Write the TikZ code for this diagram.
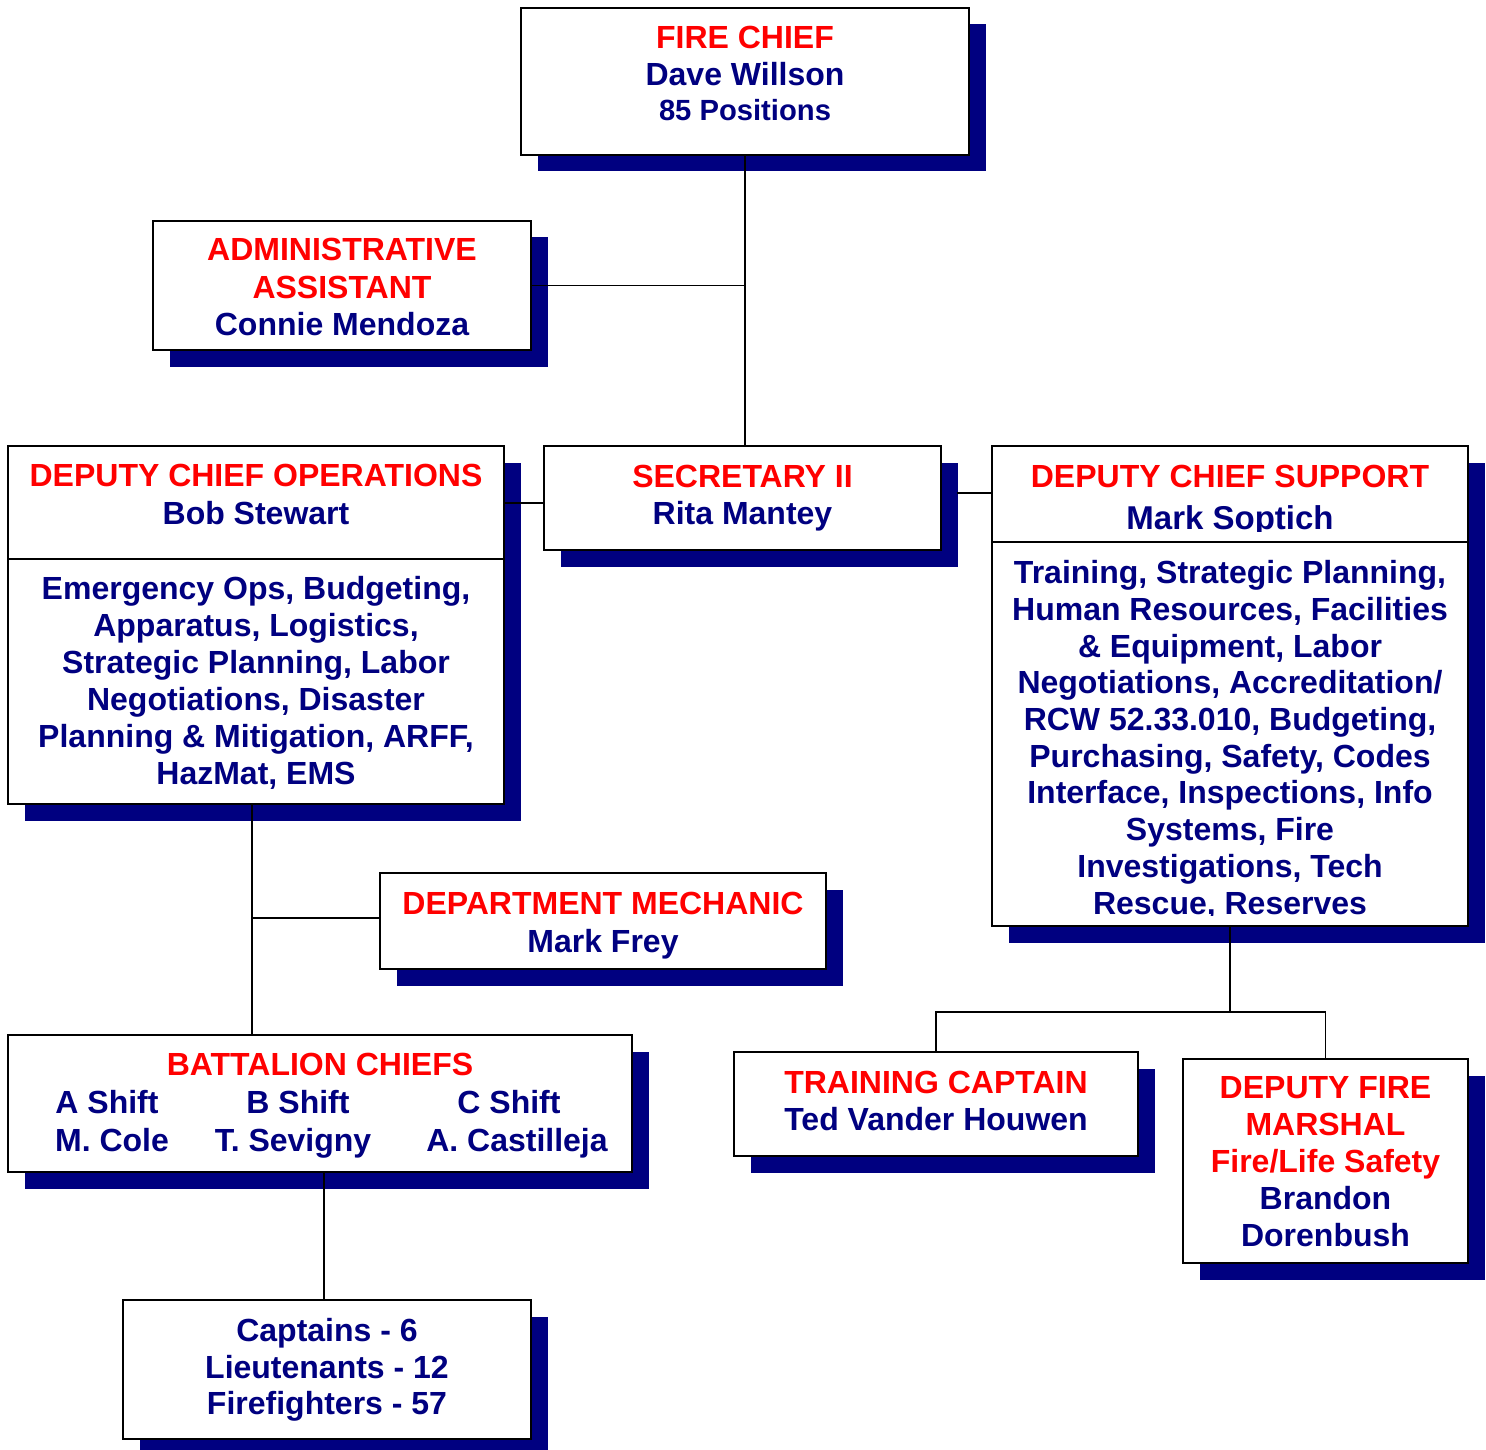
\documentclass[tikz,border=0pt]{standalone}
\usepackage{fontspec}
\setmainfont{Liberation Sans}
\usetikzlibrary{fit,shadows}
\definecolor{navy}{RGB}{0,0,128}
\definecolor{ored}{RGB}{255,0,0}
\begin{document}
\begin{tikzpicture}[x=0.5pt,y=-0.5pt,
  box/.style={draw=black, line width=1pt, fill=white, inner sep=0pt,
    drop shadow={shadow xshift=8.25pt, shadow yshift=-8.25pt, fill=navy, opacity=1}},
  t/.style={inner sep=0pt, text height=11.46pt, text depth=0pt,
    font=\fontsize{16}{18.5}\selectfont\bfseries, text=navy},
  r/.style={t, text=ored},
  conn/.style={line width=0.75pt, draw=black},
  divider/.style={line width=1pt, draw=black}]
\useasboundingbox (0,0) rectangle (1486,1449);

% ---------- boxes ----------
\node[box, fit={(521,8) (969,155)}] (fc) {};
\node[box, fit={(153,221) (531,350)}] (admin) {};
\node[box, fit={(8,446) (504,804)}] (ops) {};
\node[box, fit={(544,446) (941,550)}] (sec) {};
\node[box, fit={(992,446) (1468,926)}] (sup) {};
\node[box, fit={(380,873) (826,969)}] (mech) {};
\node[box, fit={(8,1035) (632,1172)}] (bat) {};
\node[box, fit={(734,1052) (1138,1156)}] (train) {};
\node[box, fit={(1183,1059) (1468,1263)}] (dfm) {};
\node[box, fit={(123,1300) (531,1439)}] (cap) {};

% dividers
\coordinate (d1) at (0,559);
\coordinate (d2) at (0,542);
\draw[divider] (ops.west |- d1) -- (ops.east |- d1);
\draw[divider] (sup.west |- d2) -- (sup.east |- d2);

% ---------- connectors ----------
\draw[conn] (fc.south) -- (fc.south |- sec.north);
\draw[conn] (admin.east) -- (admin.east -| fc.south);
\coordinate (j2) at (0,503);
\draw[conn] (sec.west |- j2) -- (ops.east |- j2);
\coordinate (j3) at (957,493);
\draw[conn] (j3) -- (sup.west |- j3);
\coordinate (j1) at (252,918);
\draw[conn] (ops.south -| j1) -- (bat.north -| j1);
\draw[conn] (j1) -- (j1 -| mech.west);
\coordinate (j5) at (324,0);
\draw[conn] (bat.south -| j5) -- (cap.north -| j5);
\coordinate (j4) at (1230,1012);
\draw[conn] (sup.south) -- (sup.south |- j4);
\draw[conn] (train.north) -- (train.north |- j4) -| (dfm.north);

% ---------- texts ----------
% Fire chief
\node[r] (fc1) at (745,37) {FIRE CHIEF};
\node[t] (fc2) at (745,74) {Dave Willson};
\node[t, font=\fontsize{14.6}{18.5}\selectfont\bfseries, text height=10.45pt] (fc3) at (745,110) {85 Positions};
% Admin
\node[r] (ad1) at (342,249.5) {ADMINISTRATIVE};
\node[r] (ad2) at (342,287) {ASSISTANT};
\node[t] (ad3) at (342,324) {Connie Mendoza};
% Ops
\node[r] (op0) at (256,475.5) {DEPUTY CHIEF OPERATIONS};
\node[t] (opn) at (256,513) {Bob Stewart};
\node[t] (op1) at (256,588) {Emergency Ops, Budgeting,};
\node[t] (op2) at (256,625) {Apparatus, Logistics,};
\node[t] (op3) at (256,662) {Strategic Planning, Labor};
\node[t] (op4) at (256,699.5) {Negotiations, Disaster};
\node[t] (op5) at (256,736) {Planning \& Mitigation, ARFF,};
\node[t] (op6) at (256,773) {HazMat, EMS};
% Secretary
\node[r] (se1) at (742.5,476) {SECRETARY II};
\node[t] (se2) at (742.5,513) {Rita Mantey};
% Support
\node[r] (su0) at (1230,476) {DEPUTY CHIEF SUPPORT};
\begin{scope}
\clip (992,446) rectangle (1468,531);
\node[t, font=\fontsize{16.5}{18.5}\selectfont\bfseries, text height=11.8pt] (sun) at (1230,518) {Mark Soptich};
\end{scope}
\node[t] (su1) at (1230,572.5) {Training, Strategic Planning,};
\node[t] (su2) at (1230,609) {Human Resources, Facilities};
\node[t] (su3) at (1230,646) {\& Equipment, Labor};
\node[t] (su4) at (1230,682.5) {Negotiations, Accreditation/};
\node[t] (su5) at (1230,719) {RCW 52.33.010, Budgeting,};
\node[t] (su6) at (1230,756) {Purchasing, Safety, Codes};
\node[t] (su7) at (1230,792.5) {Interface, Inspections, Info};
\node[t] (su8) at (1230,829) {Systems, Fire};
\node[t] (su9) at (1230,866) {Investigations, Tech};
\begin{scope}
\clip (992,880) rectangle (1468,915);
\node[t] (su10) at (1230,903) {Rescue, Reserves};
\end{scope}
% Mechanic
\node[r] (me1) at (603,903) {DEPARTMENT MECHANIC};
\node[t] (me2) at (603,941) {Mark Frey};
% Battalion
\node[r] (ba0) at (320,1064) {BATTALION CHIEFS};
\node[t] (baA) at (107,1101.7) {A Shift};
\node[t] (baB) at (298,1101.7) {B Shift};
\node[t] (baC) at (509,1101.7) {C Shift};
\node[t] (baa) at (112,1140) {M. Cole};
\node[t] (bab) at (293,1140) {T. Sevigny};
\node[t] (bac) at (517,1140) {A. Castilleja};
% Training captain
\node[r] (tr1) at (936,1081.7) {TRAINING CAPTAIN};
\node[t] (tr2) at (936,1119.5) {Ted Vander Houwen};
% Deputy fire marshal
\node[r] (df1) at (1325.5,1087.5) {DEPUTY FIRE};
\node[r] (df2) at (1325.5,1124.3) {MARSHAL};
\node[r] (df3) at (1325.5,1161) {Fire/Life Safety};
\node[t] (df4) at (1325.5,1198) {Brandon};
\node[t] (df5) at (1325.5,1235) {Dorenbush};
% Captains
\node[t] (ca1) at (327,1330) {Captains - 6};
\node[t] (ca2) at (327,1367.5) {Lieutenants - 12};
\node[t] (ca3) at (327,1403) {Firefighters - 57};
\end{tikzpicture}
\end{document}
